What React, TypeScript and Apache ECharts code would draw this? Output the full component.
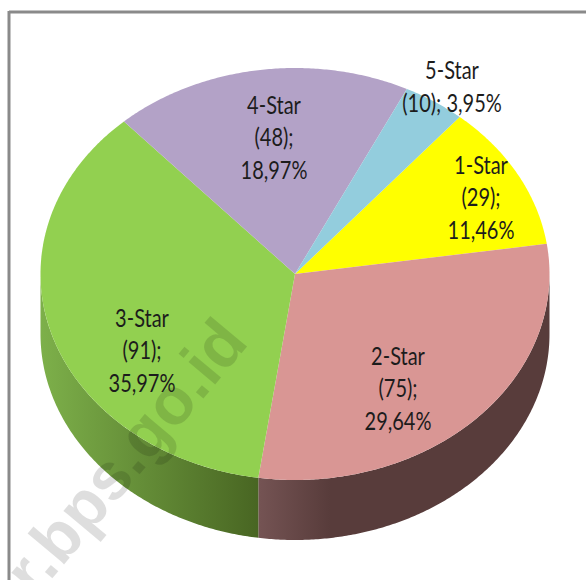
import React, { useEffect, useRef } from "react";
import * as echarts from "echarts";

const categories = ["1-Star", "2-Star", "3-Star", "4-Star", "5-Star"];
const counts = [29, 75, 91, 48, 10];
const percents = ["11,46%", "29,64%", "35,97%", "18,97%", "3,95%"];
const topColors = ["#ffff00", "#d99694", "#92d050", "#b3a2c7", "#93cddd"];

const CX = 295;
const CY = 274;
const RX = 254.5;
const RY = 206;
const DEPTH = 60;
const START_DEG = 49.7;
const FONT = 'Lato, "Noto Sans", sans-serif';

const labelAnchors = [
  [481, 197],
  [398, 388],
  [142, 350],
  [274, 137],
  [452, 86],
];

function sideFill(i: number) {
  if (i === 2) {
    return {
      type: "linear", x: 40, y: 0, x2: 260, y2: 0, global: true,
      colorStops: [
        { offset: 0, color: "#7db04a" },
        { offset: 1, color: "#486522" },
      ],
    };
  }
  return {
    type: "linear", x: 260, y: 0, x2: 330, y2: 0, global: true,
    colorStops: [
      { offset: 0, color: "#745353" },
      { offset: 1, color: "#583c3b" },
    ],
  };
}

function point(deg: number, dy = 0) {
  const a = (deg * Math.PI) / 180;
  return [CX + RX * Math.cos(a), CY - RY * Math.sin(a) + dy];
}

function arcPoints(from: number, to: number, dy = 0) {
  const pts: number[][] = [];
  const steps = Math.max(2, Math.ceil(Math.abs(to - from) / 0.5));
  for (let k = 0; k <= steps; k++) pts.push(point(from + ((to - from) * k) / steps, dy));
  return pts;
}

export default function App() {
  const ref = useRef<HTMLDivElement>(null);
  useEffect(() => {
    document.body.style.margin = "0";
    const chart = echarts.init(ref.current!, undefined, { renderer: "svg" });
    const total = counts.reduce((a, b) => a + b, 0);
    const renderItem = (params: any, api: any) => {
      const i = params.dataIndex;
      const before = counts.slice(0, i).reduce((a, b) => a + b, 0);
      const from = START_DEG - (before / total) * 360;
      const to = from - (api.value(0) / total) * 360;
      const children: any[] = [];
      const sFrom = Math.min(from, 0);
      const sTo = Math.max(to, -180);
      if (sFrom > sTo) {
        const upper = arcPoints(sFrom, sTo);
        const lower = arcPoints(sTo, sFrom, DEPTH);
        children.push({
          type: "polygon",
          shape: { points: [...upper, ...lower] },
          style: { fill: sideFill(i) },
        });
      }
      children.push({
        type: "polygon",
        shape: { points: [[CX, CY], ...arcPoints(from, to)] },
        style: { fill: topColors[i] },
      });
      return { type: "group", children };
    };
    const labelText = categories.map((c, i) =>
      i === 4 ? `${c}\n(${counts[i]}); ${percents[i]}` : `${c}\n(${counts[i]});\n${percents[i]}`
    );
    chart.setOption({
      animation: false,
      backgroundColor: "#ffffff",
      series: [
        {
          type: "custom",
          coordinateSystem: "none",
          renderItem,
          silent: true,
          clip: false,
          data: counts.map((c) => [c]),
          encode: { value: 0 },
        },
      ],
      graphic: [
        {
          type: "line",
          z: 1,
          shape: { x1: 9, y1: 12, x2: 586, y2: 12 },
          style: { stroke: "#8a8a8a", lineWidth: 3 },
        },
        {
          type: "line",
          z: 1,
          shape: { x1: 9, y1: 11, x2: 9, y2: 580 },
          style: { stroke: "#8a8a8a", lineWidth: 3 },
        },
        {
          type: "text",
          z: 50,
          x: 125,
          y: 456,
          rotation: (50 * Math.PI) / 180,
          style: {
            text: "r.bps.go.id",
            fill: "rgba(0,0,0,0.13)",
            font: 'bold 66px "Liberation Sans", sans-serif',
            textAlign: "center",
            textVerticalAlign: "middle",
          },
        },
        ...labelText.map((t, i) => ({
          type: "text",
          z: 60,
          x: labelAnchors[i][0],
          y: labelAnchors[i][1],
          scaleX: 0.8,
          style: {
            text: t,
            fill: "#1c1c1c",
            font: `25px ${FONT}`,
            lineHeight: 32.5,
            textAlign: "center",
            textVerticalAlign: "middle",
          },
        })),
      ],
    });
    return () => chart.dispose();
  }, []);
  return <div ref={ref} style={{ width: 586, height: 580 }} />;
}
